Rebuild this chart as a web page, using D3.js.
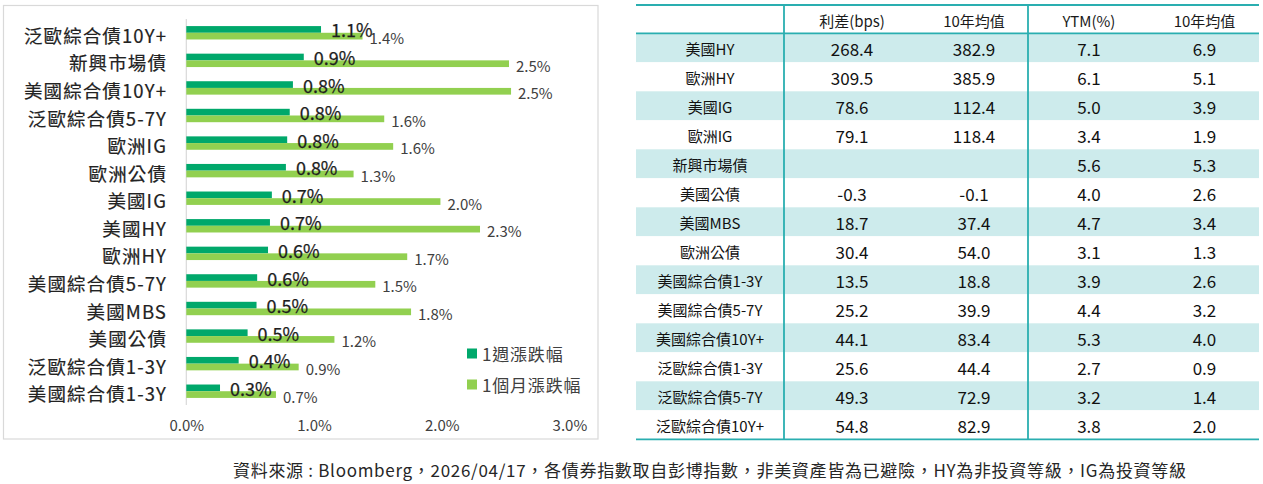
<!DOCTYPE html>
<html><head><meta charset="utf-8">
<script src="https://cdn.jsdelivr.net/npm/d3@7/dist/d3.min.js"></script>
<style>body{margin:0;background:#fff}svg{display:block;font-family:"Noto Sans CJK TC","Noto Sans",sans-serif}</style>
</head><body><svg id="c" width="1263" height="484"></svg>
<script>
// ---- bar chart data ----
const categories = ["泛歐綜合債10Y+","新興市場債","美國綜合債10Y+","泛歐綜合債5-7Y","歐洲IG","歐洲公債","美國IG","美國HY","歐洲HY","美國綜合債5-7Y","美國MBS","美國公債","泛歐綜合債1-3Y","美國綜合債1-3Y"];
const weekValues  = [1.055,0.92,0.835,0.81,0.79,0.78,0.67,0.655,0.64,0.555,0.55,0.48,0.41,0.264];
const monthValues = [1.38,2.527,2.543,1.55,1.62,1.31,1.99,2.30,1.73,1.48,1.76,1.16,0.88,0.702];
const weekLabels  = ["1.1%","0.9%","0.8%","0.8%","0.8%","0.8%","0.7%","0.7%","0.6%","0.6%","0.5%","0.5%","0.4%","0.3%"];
const monthLabels = ["1.4%","2.5%","2.5%","1.6%","1.6%","1.3%","2.0%","2.3%","1.7%","1.5%","1.8%","1.2%","0.9%","0.7%"];
const xTicks = [0,1,2,3];
const seriesNames = ["1週漲跌幅","1個月漲跌幅"];

// ---- table data ----
const tableHeaders = ["","利差(bps)","10年均值","YTM(%)","10年均值"];
const tableRows = ["美國HY","歐洲HY","美國IG","歐洲IG","新興市場債","美國公債","美國MBS","歐洲公債","美國綜合債1-3Y","美國綜合債5-7Y","美國綜合債10Y+","泛歐綜合債1-3Y","泛歐綜合債5-7Y","泛歐綜合債10Y+"];
const spreadNow = ["268.4","309.5","78.6","79.1","","-0.3","18.7","30.4","13.5","25.2","44.1","25.6","49.3","54.8"];
const spreadAvg = ["382.9","385.9","112.4","118.4","","-0.1","37.4","54.0","18.8","39.9","83.4","44.4","72.9","82.9"];
const ytmNow    = ["7.1","6.1","5.0","3.4","5.6","4.0","4.7","3.1","3.9","4.4","5.3","2.7","3.2","3.8"];
const ytmAvg    = ["6.9","5.1","3.9","1.9","5.3","2.6","3.4","1.3","2.6","3.2","4.0","0.9","1.4","2.0"];

const footnote = "資料來源 : Bloomberg，2026/04/17，各債券指數取自彭博指數，非美資產皆為已避險，HY為非投資等級，IG為投資等級";

const DARK="#00a86b", LIGHT="#92d050", TEAL="#2aaeb0", FILL="#cdebec";
const svg = d3.select("#c");

// panel border
svg.append("rect").attr("x",3.5).attr("y",5.5).attr("width",594.5).attr("height",433.5)
  .attr("fill","none").attr("stroke","#d9d9d9").attr("stroke-width",1.2);

const x = d3.scaleLinear().domain([0,3]).range([186.3,569.4]);
const y = d3.scaleBand().domain(categories).range([19,405]);
const barH = 6.7;
const g = svg.append("g");

// vertical axis line
g.append("line").attr("x1",x(0)).attr("x2",x(0)).attr("y1",19).attr("y2",405)
  .attr("stroke","#d9d9d9").attr("stroke-width",1.2);

const mid = d => y(d) + y.bandwidth()/2;

g.selectAll(".wk").data(categories).join("rect")
  .attr("x",x(0)).attr("y",d=>mid(d)-barH).attr("height",barH)
  .attr("width",(d,i)=>x(weekValues[i])-x(0)).attr("fill",DARK);
g.selectAll(".mo").data(categories).join("rect")
  .attr("x",x(0)).attr("y",d=>mid(d)).attr("height",barH)
  .attr("width",(d,i)=>x(monthValues[i])-x(0)).attr("fill",LIGHT);

g.selectAll(".wl").data(categories).join("text")
  .attr("x",(d,i)=>x(weekValues[i])+10).attr("y",d=>mid(d)-barH/2)
  .attr("dominant-baseline","central").attr("font-size",18).attr("fill","#1e1e1e")
  .attr("stroke","#1e1e1e").attr("stroke-width",0.25)
  .text((d,i)=>weekLabels[i]);
g.selectAll(".ml").data(categories).join("text")
  .attr("x",(d,i)=>x(monthValues[i])+7).attr("y",d=>mid(d)+barH/2+1.5)
  .attr("dominant-baseline","central").attr("font-size",15).attr("fill","#404040")
  .text((d,i)=>monthLabels[i]);

// category labels
g.selectAll(".cl").data(categories).join("text")
  .attr("x",167).attr("y",d=>mid(d)+2).attr("text-anchor","end")
  .attr("dominant-baseline","central").attr("font-size",18.5).attr("letter-spacing",1.1)
  .attr("fill","#222").attr("stroke","#222").attr("stroke-width",0.2).text(d=>d);

// x tick labels
const xAxis = d3.axisBottom(x).tickValues(xTicks).tickFormat(d=>d.toFixed(1)+"%").tickSize(0);
const ax = svg.append("g").attr("transform","translate(0,417)").call(xAxis);
ax.select(".domain").remove();
ax.selectAll("text").attr("font-size",15).attr("fill","#404040").attr("font-family","Noto Sans CJK TC");

// legend
const leg = svg.append("g");
seriesNames.forEach((s,i)=>{
  const ly = 353.5 + i*31;
  leg.append("rect").attr("x",467).attr("y",ly-5).attr("width",10).attr("height",10).attr("fill",i?LIGHT:DARK);
  leg.append("text").attr("x",482).attr("y",ly).attr("dominant-baseline","central")
    .attr("font-size",17).attr("letter-spacing",0.8).attr("fill","#404040").text(s);
});

// ---- table ----
const colCenters = [710,852,974,1089,1204.5];
const tL = 636, tR = 1259, headTop = 5, headBot = 33.3, rowH = 29;
const ty = d3.scaleBand().domain(tableRows).range([headBot, headBot + rowH*tableRows.length]);
const t = svg.append("g");
t.selectAll(".rf").data(tableRows).join("rect")
  .attr("x",tL).attr("width",tR-tL).attr("y",d=>ty(d)).attr("height",ty.bandwidth())
  .attr("fill",(d,i)=>i%2===0?FILL:"#fff");
// header
tableHeaders.forEach((h,j)=>{
  t.append("text").attr("x",colCenters[j]).attr("y",(headTop+headBot)/2+1)
   .attr("text-anchor","middle").attr("dominant-baseline","central")
   .attr("font-size",15).attr("fill","#1a1a1a").text(h);
});
const cols = [tableRows, spreadNow, spreadAvg, ytmNow, ytmAvg];
cols.forEach((col,j)=>{
  t.selectAll(".c"+j).data(col).join("text")
   .attr("x",colCenters[j]).attr("y",(d,i)=>ty(tableRows[i])+ty.bandwidth()/2+1)
   .attr("text-anchor","middle").attr("dominant-baseline","central")
   .attr("font-size",j===0?15:17).attr("fill","#111").text(d=>d);
});
const tableBottom = headBot + rowH*tableRows.length;
[headTop, headBot, tableBottom].forEach(v=>{
  t.append("line").attr("x1",tL).attr("x2",tR).attr("y1",v).attr("y2",v).attr("stroke",TEAL).attr("stroke-width",1.8);
});
[784, 1028].forEach(v=>{
  t.append("line").attr("x1",v).attr("x2",v).attr("y1",headTop).attr("y2",tableBottom).attr("stroke",TEAL).attr("stroke-width",1.8);
});

// footnote
svg.append("text").attr("x",233).attr("y",469).attr("dominant-baseline","central")
  .attr("font-size",17).attr("fill","#262626")
  .attr("textLength",953).attr("lengthAdjust","spacing").text(footnote);
</script></body></html>
